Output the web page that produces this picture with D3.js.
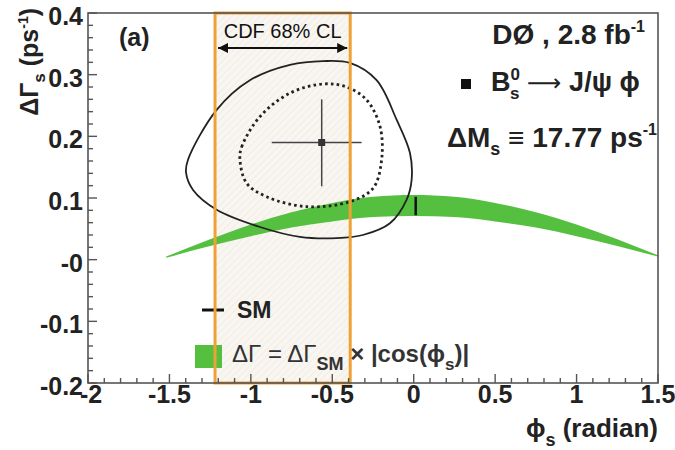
<!DOCTYPE html>
<html>
<head>
<meta charset="utf-8">
<script src="https://cdn.jsdelivr.net/npm/d3@7"></script>
<style>
  body { margin: 0; background: #fff; }
  svg { font-family: "Liberation Sans", Arial, Helvetica, sans-serif; }
</style>
</head>
<body>
<div id="viz"></div>
<script>
// green band: dGamma = dGamma_SM x |cos(phi)|
var bandPhi = [-1.52, -1.25, -1.0, -0.75, -0.5, -0.25, 0, 0.25, 0.5, 0.75, 1.0, 1.25, 1.5];
var bandUpper = [0.005, 0.033, 0.057, 0.077, 0.092, 0.102, 0.105, 0.102, 0.092, 0.077, 0.057, 0.033, 0.007];
var bandLower = [0.003, 0.022, 0.038, 0.052, 0.062, 0.069, 0.071, 0.069, 0.062, 0.052, 0.038, 0.022, 0.005];

// 90% (solid) and 68% (dotted) contours
var solidPhi = [-1.398, -1.386, -1.21, -1.006, -0.76, -0.557, -0.392, -0.228, -0.105, -0.023, -0.013, -0.044, -0.146, -0.312, -0.473, -0.699, -0.944, -1.21, -1.355];
var solidDG = [0.141, 0.162, 0.243, 0.291, 0.316, 0.322, 0.319, 0.291, 0.227, 0.173, 0.129, 0.097, 0.059, 0.040, 0.035, 0.037, 0.053, 0.081, 0.113];
var dottedPhi = [-1.067, -1.056, -0.944, -0.76, -0.556, -0.412, -0.289, -0.207, -0.197, -0.249, -0.392, -0.657, -0.903, -1.026];
var dottedDG = [0.162, 0.183, 0.232, 0.270, 0.285, 0.280, 0.259, 0.216, 0.162, 0.116, 0.094, 0.086, 0.102, 0.124];

// best fit point with errors
var bestPhi = -0.565, bestDG = 0.19;
var phiErr = [-0.872, -0.32];
var dgErr = [0.119, 0.26];

// CDF 68% CL range
var cdfRange = [-1.22, -0.39];
// SM point
var smPhi = 0, smRange = [0.072, 0.102];

var xTicks = [-2, -1.5, -1, -0.5, 0, 0.5, 1, 1.5];
var xTickLabels = ["-2", "-1.5", "-1", "-0.5", "0", "0.5", "1", "1.5"];
var yTicks = [-0.2, -0.1, 0, 0.1, 0.2, 0.3, 0.4];
var yTickLabels = ["-0.2", "-0.1", "-0", "0.1", "0.2", "0.3", "0.4"];

const width = 675, height = 450;
const x = d3.scaleLinear().domain([-2, 1.5]).range([88, 658]);
const y = d3.scaleLinear().domain([-0.2, 0.4]).range([383, 13]);

const svg = d3.select("#viz").append("svg")
    .attr("width", width).attr("height", height);

const defs = svg.append("defs");
const pat = defs.append("pattern")
    .attr("id", "hatch").attr("patternUnits", "userSpaceOnUse")
    .attr("width", 5).attr("height", 5)
    .attr("patternTransform", "rotate(45)");
pat.append("rect").attr("width", 5).attr("height", 5).attr("fill", "#f9f6f1");
pat.append("line").attr("x1", 0).attr("y1", 0).attr("x2", 0).attr("y2", 5)
    .attr("stroke", "#eeeae3").attr("stroke-width", 1.5);

defs.append("marker").attr("id", "arr").attr("viewBox", "0 0 10 10")
    .attr("refX", 10).attr("refY", 5).attr("markerWidth", 6).attr("markerHeight", 5)
    .attr("markerUnits", "strokeWidth").attr("orient", "auto-start-reverse")
    .append("path").attr("d", "M0,0L10,5L0,10z").attr("fill", "#111");

// CDF band fill
svg.append("rect")
    .attr("x", x(cdfRange[0])).attr("y", y(0.4))
    .attr("width", x(cdfRange[1]) - x(cdfRange[0]))
    .attr("height", y(-0.2) - y(0.4))
    .attr("fill", "url(#hatch)");

// green band
var bandData = bandPhi.map((p, i) => ({ p: p, lo: bandLower[i], hi: bandUpper[i] }));
svg.append("path")
    .datum(bandData)
    .attr("fill", "#55c040")
    .attr("d", d3.area().x(d => x(d.p)).y0(d => y(d.lo)).y1(d => y(d.hi)).curve(d3.curveMonotoneX));

// SM tick
svg.append("line")
    .attr("x1", x(smPhi) + 2).attr("x2", x(smPhi) + 2)
    .attr("y1", y(smRange[0])).attr("y2", y(smRange[1]))
    .attr("stroke", "#111").attr("stroke-width", 2.5);

// contours
var solidPts = solidPhi.map((p, i) => [x(p), y(solidDG[i])]);
var dottedPts = dottedPhi.map((p, i) => [x(p), y(dottedDG[i])]);
var closedLine = d3.line().curve(d3.curveCatmullRomClosed.alpha(0.5));

svg.append("path").attr("d", closedLine(solidPts))
    .attr("fill", "none").attr("stroke", "#222").attr("stroke-width", 1.8);
svg.append("path").attr("d", closedLine(dottedPts))
    .attr("fill", "none").attr("stroke", "#222").attr("stroke-width", 2.8)
    .attr("stroke-dasharray", "2.6 3.2");

// best fit with errors
svg.append("line").attr("x1", x(phiErr[0])).attr("x2", x(phiErr[1]))
    .attr("y1", y(bestDG)).attr("y2", y(bestDG)).attr("stroke", "#444").attr("stroke-width", 1.5);
svg.append("line").attr("x1", x(bestPhi)).attr("x2", x(bestPhi))
    .attr("y1", y(dgErr[0])).attr("y2", y(dgErr[1])).attr("stroke", "#444").attr("stroke-width", 1.5);
svg.append("rect").attr("x", x(bestPhi) - 3.5).attr("y", y(bestDG) - 3.5)
    .attr("width", 7).attr("height", 7).attr("fill", "#333");

// legend
svg.append("line").attr("x1", 202).attr("x2", 224).attr("y1", 310).attr("y2", 310)
    .attr("stroke", "#111").attr("stroke-width", 3);
svg.append("text").attr("x", 237).attr("y", 318)
    .attr("font-size", 23).attr("font-weight", "bold").attr("fill", "#222").text("SM");
svg.append("rect").attr("x", 195).attr("y", 345).attr("width", 27).attr("height", 23)
    .attr("fill", "#55c040");

// CDF box outline
svg.append("rect")
    .attr("x", x(cdfRange[0])).attr("y", y(0.4))
    .attr("width", x(cdfRange[1]) - x(cdfRange[0]))
    .attr("height", y(-0.2) - y(0.4))
    .attr("fill", "none").attr("stroke", "#f0a034").attr("stroke-width", 3);

var leg2 = svg.append("text").attr("x", 232).attr("y", 362)
    .attr("font-size", 24).attr("font-weight", "bold").attr("fill", "#333");
leg2.append("tspan").attr("font-weight", "normal").text("ΔΓ = ΔΓ");
leg2.append("tspan").attr("font-size", 18).attr("dy", 8).text("SM");
leg2.append("tspan").attr("dy", -8).text(" × |cos(ϕ");
leg2.append("tspan").attr("font-size", 17).attr("dy", 8).text("s");
leg2.append("tspan").attr("dy", -8).text(")|");

// CDF label and arrow
svg.append("text").attr("x", (x(cdfRange[0]) + x(cdfRange[1])) / 2).attr("y", 38)
    .attr("text-anchor", "middle").attr("font-size", 20).attr("fill", "#111").text("CDF 68% CL");
svg.append("line")
    .attr("x1", x(cdfRange[0]) + 3).attr("x2", x(cdfRange[1]) - 3)
    .attr("y1", 48).attr("y2", 48)
    .attr("stroke", "#111").attr("stroke-width", 2)
    .attr("marker-start", "url(#arr)").attr("marker-end", "url(#arr)");

// frame
svg.append("rect").attr("x", 88).attr("y", 13).attr("width", 570).attr("height", 370)
    .attr("fill", "none").attr("stroke", "#555").attr("stroke-width", 1.6);

// ticks
var yMinor = d3.range(-0.2, 0.4001, 0.02);
svg.append("g").selectAll("line").data(yMinor).join("line")
    .attr("x1", 88).attr("x2", (d, i) => i % 5 === 0 ? 97 : 93)
    .attr("y1", d => y(d)).attr("y2", d => y(d))
    .attr("stroke", "#555").attr("stroke-width", 1.4);
var xMinor = d3.range(-2, 1.5001, 0.1);
svg.append("g").selectAll("line").data(xMinor).join("line")
    .attr("y1", 383).attr("y2", (d, i) => i % 5 === 0 ? 374 : 378)
    .attr("x1", d => x(d)).attr("x2", d => x(d))
    .attr("stroke", "#555").attr("stroke-width", 1.4);

// tick labels
svg.append("g").selectAll("text").data(yTicks).join("text")
    .attr("x", 83).attr("y", d => y(d) + 12)
    .attr("text-anchor", "end").attr("font-size", 25).attr("font-weight", "bold").attr("fill", "#222")
    .text((d, i) => yTickLabels[i]);
svg.append("g").selectAll("text").data(xTicks).join("text")
    .attr("x", (d, i) => x(d) + (i === 0 ? 3 : 0)).attr("y", 403)
    .attr("text-anchor", "middle").attr("font-size", 25).attr("font-weight", "bold").attr("fill", "#222")
    .text((d, i) => xTickLabels[i]);

// axis titles
var xt = svg.append("text").attr("x", 658).attr("y", 437).attr("text-anchor", "end")
    .attr("font-size", 26).attr("font-weight", "bold").attr("fill", "#222");
xt.append("tspan").text("ϕ");
xt.append("tspan").attr("font-size", 18).attr("dy", 9).text("s");
xt.append("tspan").attr("dy", -9).text(" (radian)");

var yt = svg.append("text").attr("transform", "translate(38,8) rotate(-90)").attr("text-anchor", "end")
    .attr("font-size", 25).attr("font-weight", "bold").attr("fill", "#222");
yt.append("tspan").text("ΔΓ");
yt.append("tspan").attr("font-size", 17).attr("dy", 7).text("s");
yt.append("tspan").attr("dy", -7).text(" (ps");
yt.append("tspan").attr("font-size", 14).attr("dy", -10).text("-1");
yt.append("tspan").attr("dy", 10).text(")");

// panel label and info text
svg.append("text").attr("x", 119).attr("y", 46)
    .attr("font-size", 25).attr("font-weight", "bold").attr("fill", "#222").text("(a)");

var t1 = svg.append("text").attr("x", 645).attr("y", 44).attr("text-anchor", "end")
    .attr("font-size", 28).attr("font-weight", "bold").attr("fill", "#222");
t1.append("tspan").text("DØ , 2.8 fb");
t1.append("tspan").attr("font-size", 16).attr("dy", -12).text("-1");

svg.append("rect").attr("x", 461).attr("y", 79).attr("width", 10).attr("height", 10).attr("fill", "#111");
var t2 = svg.append("text").attr("x", 491).attr("y", 91)
    .attr("font-size", 27).attr("font-weight", "bold").attr("fill", "#222");
t2.append("tspan").text("B");
t2.append("tspan").attr("font-size", 17).attr("dy", -11).text("0");
t2.append("tspan").attr("font-size", 17).attr("dx", -10).attr("dy", 19).text("s");
t2.append("tspan").attr("dy", -8).attr("font-weight", "normal").attr("font-family", "DejaVu Sans").attr("font-size", 24).text(" ⟶ ");
t2.append("tspan").text("J/ψ ϕ");

var t3 = svg.append("text").attr("x", 657).attr("y", 147).attr("text-anchor", "end")
    .attr("font-size", 28).attr("font-weight", "bold").attr("fill", "#222");
t3.append("tspan").text("ΔM");
t3.append("tspan").attr("font-size", 18).attr("dy", 8).text("s");
t3.append("tspan").attr("dy", -8).text(" ≡ 17.77 ps");
t3.append("tspan").attr("font-size", 16).attr("dy", -12).text("-1");
</script>
</body>
</html>
